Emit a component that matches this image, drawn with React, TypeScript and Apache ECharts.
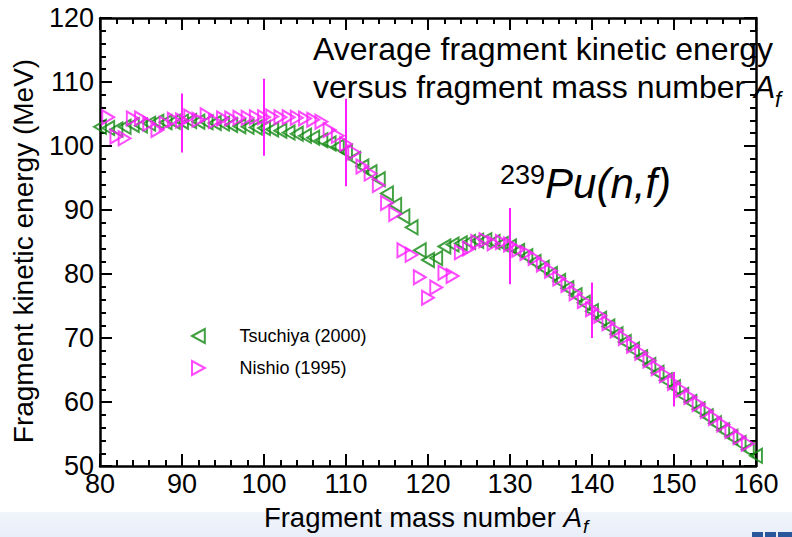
import React, { useEffect, useRef } from "react";
import * as echarts from "echarts";

const FONT = "'Liberation Sans', Arial, Helvetica, sans-serif";

// Tsuchiya (2000) — green left-pointing triangles
const tsuchiyaMass = [
  80, 81, 82, 83, 84, 85, 86, 87, 88, 89, 90, 91, 92, 93, 94, 95, 96, 97, 98, 99,
  100, 101, 102, 103, 104, 105, 106, 107, 108, 109, 110, 111, 112, 113, 114, 115, 116, 117, 118, 119,
  120, 121, 122, 123, 124, 125, 126, 127, 128, 129, 130, 131, 132, 133, 134, 135, 136, 137, 138, 139,
  140, 141, 142, 143, 144, 145, 146, 147, 148, 149, 150, 151, 152, 153, 154, 155, 156, 157, 158, 159, 160,
];
const tsuchiyaEnergy = [
  103.0, 102.8, 102.6, 103.0, 103.3, 103.2, 103.5, 103.8, 103.7, 103.8, 103.8, 103.9, 103.8, 103.7, 103.6, 103.5, 103.3, 103.1, 103.0, 102.9,
  102.8, 102.6, 102.4, 102.1, 101.9, 101.6, 101.3, 100.9, 100.4, 99.9, 99.1, 98.0, 96.8, 95.9, 94.8, 92.6, 90.8, 89.0, 87.3, 83.7,
  82.2, 82.5, 84.3, 84.6, 84.8, 85.0, 85.2, 85.3, 85.0, 84.7, 84.3, 83.6, 82.8, 81.9, 81.0, 80.0, 78.9, 77.8, 76.7, 75.5,
  74.2, 73.0, 71.8, 70.6, 69.4, 68.2, 67.0, 65.8, 64.6, 63.4, 62.3, 61.1, 60.0, 58.9, 57.8, 56.7, 55.6, 54.6, 53.6, 52.6, 51.6,
];

// Nishio (1995) — magenta right-pointing triangles
const nishioMass = [
  81, 82, 83, 84, 85, 86, 87, 88, 89, 90, 91, 92, 93, 94, 95, 96, 97, 98, 99,
  100, 101, 102, 103, 104, 105, 106, 107, 108, 109, 110, 111, 112, 113, 114, 115, 116, 117, 118, 119,
  120, 121, 122, 123, 124, 125, 126, 127, 128, 129, 130, 131, 132, 133, 134, 135, 136, 137, 138, 139,
  140, 141, 142, 143, 144, 145, 146, 147, 148, 149, 150, 151, 152, 153, 154, 155, 156, 157, 158, 159,
];
const nishioEnergy = [
  104.5, 101.5, 101.2, 104.3, 104.3, 103.5, 102.5, 103.5, 104.1, 104.0, 104.6, 104.1, 104.8, 103.9, 104.3, 104.3, 104.4, 104.4, 104.5,
  104.5, 104.6, 104.5, 104.5, 104.4, 104.3, 104.1, 103.8, 102.5, 101.6, 100.3, 99.0, 96.8, 95.7, 93.9, 91.1, 89.4, 83.7, 83.0, 79.5,
  76.3, 77.9, 80.2, 79.7, 83.4, 84.0, 85.0, 85.3, 84.8, 85.0, 84.6, 83.8, 83.3, 82.5, 81.5, 80.5, 79.3, 78.3, 77.0, 75.8,
  74.5, 73.5, 72.3, 71.2, 70.0, 68.8, 67.7, 66.5, 65.3, 64.2, 63.0, 61.9, 60.8, 59.7, 58.6, 57.5, 56.5, 55.5, 54.5, 53.5,
];

// Nishio error bars
const errMass = [90, 100, 110, 130, 140, 150];
const errLow = [99.0, 98.5, 93.7, 78.4, 70.0, 59.3];
const errHigh = [108.2, 110.5, 107.4, 90.3, 78.7, 64.7];

const xTicks = { min: 80, max: 160, interval: 10 };
const yTicks = { min: 50, max: 120, interval: 10 };

const GREEN = "#118811";
const MAGENTA = "#ff1eff";
const LEFT_TRI = "path://M0,6L11,0L11,12Z";
const RIGHT_TRI = "path://M11,6L0,0L0,12Z";

export default function App() {
  const ref = useRef<HTMLDivElement>(null);
  useEffect(() => {
    if (!ref.current) return;
    const chart = echarts.init(ref.current, null, { renderer: "svg" });

    const axisLine = { show: true, onZero: false, lineStyle: { color: "#000", width: 2.5 } };
    const tick = { show: true, inside: true, length: 12, lineStyle: { color: "#000", width: 2 } };
    const minor = { show: true, splitNumber: 5, length: 6, lineStyle: { color: "#000", width: 2 } };

    const option: any = {
      animation: false,
      backgroundColor: "#ffffff",
      grid: { left: 100, right: 36, top: 18, bottom: 61 },
      legend: {
        orient: "vertical",
        left: 186,
        top: 322,
        itemWidth: 72,
        itemHeight: 14,
        itemGap: 14,
        selectedMode: false,
        textStyle: { fontSize: 18, color: "#000", fontFamily: FONT },
        data: ["Tsuchiya (2000)", "Nishio (1995)"],
      },
      xAxis: [
        {
          type: "value",
          position: "bottom",
          ...xTicks,
          axisLine,
          axisTick: tick,
          minorTick: minor,
          splitLine: { show: false },
          minorSplitLine: { show: false },
          axisLabel: { color: "#000", fontSize: 27, fontFamily: FONT, margin: 4 },
          name: "{n|Fragment mass number }{i|A}",
          nameLocation: "middle",
          nameGap: 27,
          nameTextStyle: {
            color: "#000",
            fontFamily: FONT,
            fontSize: 28,
            lineHeight: 30,
            rich: {
              n: { fontSize: 27.5, lineHeight: 30, color: "#000", fontFamily: FONT },
              i: { fontSize: 28, lineHeight: 30, fontStyle: "italic", color: "#000", fontFamily: FONT, padding: [0, 10, 0, 0] },
            },
          },
        },
        {
          type: "value",
          position: "top",
          ...xTicks,
          axisLine,
          axisTick: tick,
          minorTick: minor,
          splitLine: { show: false },
          axisLabel: { show: false },
        },
      ],
      yAxis: [
        {
          type: "value",
          position: "left",
          ...yTicks,
          axisLine,
          axisTick: tick,
          minorTick: minor,
          splitLine: { show: false },
          minorSplitLine: { show: false },
          axisLabel: { color: "#000", fontSize: 27, fontFamily: FONT, margin: 6 },
          name: "Fragment kinetic energy (MeV)",
          nameLocation: "middle",
          nameGap: 50,
          nameTextStyle: { color: "#000", fontFamily: FONT, fontSize: 28, lineHeight: 30, padding: [0, 18, 0, 0] },
        },
        {
          type: "value",
          position: "right",
          ...yTicks,
          axisLine,
          axisTick: tick,
          minorTick: minor,
          splitLine: { show: false },
          axisLabel: { show: false },
        },
      ],
      graphic: [
        {
          type: "rect",
          z: -10,
          shape: { x: 0, y: 512, width: 792, height: 25 },
          style: {
            fill: new echarts.graphic.LinearGradient(0, 0, 0, 1, [
              { offset: 0, color: "#f1f4fb" },
              { offset: 1, color: "#e8eef9" },
            ]),
          },
        },
        { type: "rect", z: -9, shape: { x: 752, y: 532, width: 11, height: 5 }, style: { fill: "#2a579c" } },
        { type: "rect", z: -9, shape: { x: 765, y: 532, width: 11, height: 5 }, style: { fill: "#2a579c" } },
        { type: "rect", z: -9, shape: { x: 778, y: 532, width: 14, height: 5 }, style: { fill: "#2a579c" } },
        // x-axis name subscript
        {
          type: "text",
          z: 100,
          x: 583,
          y: 526,
          style: { text: "f", fontSize: 19, fontStyle: "italic", fontFamily: FONT, fill: "#000", align: "left", verticalAlign: "middle" },
        },
        {
          type: "text",
          z: 100,
          x: 313,
          y: 49,
          style: {
            text: "Average fragment kinetic energy",
            fontSize: 32,
            fontFamily: FONT,
            fill: "#000",
            align: "left",
            verticalAlign: "middle",
          },
        },
        {
          type: "text",
          z: 100,
          x: 313,
          y: 87,
          style: {
            text: "{n|versus fragment mass number }{i|A}",
            fontFamily: FONT,
            fill: "#000",
            align: "left",
            verticalAlign: "middle",
            rich: {
              n: { fontSize: 32, lineHeight: 36, fontFamily: FONT, fill: "#000" },
              i: { fontSize: 32, lineHeight: 36, fontStyle: "italic", fontFamily: FONT, fill: "#000" },
            },
          },
        },
        {
          type: "text",
          z: 100,
          x: 775,
          y: 99,
          style: { text: "f", fontSize: 22, fontStyle: "italic", fontFamily: FONT, fill: "#000", align: "left", verticalAlign: "middle" },
        },
        {
          type: "text",
          z: 100,
          x: 500,
          y: 183,
          style: {
            text: "{sup|239}{pu|Pu(n,f)}",
            fontFamily: FONT,
            fill: "#000",
            align: "left",
            verticalAlign: "middle",
            rich: {
              sup: { fontSize: 27, lineHeight: 22, verticalAlign: "top", fontFamily: FONT, fill: "#000" },
              pu: { fontSize: 42, lineHeight: 44, fontStyle: "italic", fontFamily: FONT, fill: "#000" },
            },
          },
        },
      ],
      series: [
        {
          name: "Tsuchiya (2000)",
          type: "scatter",
          xAxisIndex: 0,
          yAxisIndex: 0,
          symbol: LEFT_TRI,
          symbolSize: [13, 14],
          symbolKeepAspect: true,
          itemStyle: { color: "rgba(0,0,0,0)", borderColor: GREEN, borderWidth: 2 },
          emphasis: { disabled: true },
          data: tsuchiyaMass.map((m, i) => [m, tsuchiyaEnergy[i]]),
          z: 2,
        },
        {
          name: "Nishio (1995)",
          type: "scatter",
          xAxisIndex: 0,
          yAxisIndex: 0,
          symbol: RIGHT_TRI,
          symbolSize: [13, 14],
          symbolKeepAspect: true,
          itemStyle: { color: "rgba(0,0,0,0)", borderColor: MAGENTA, borderWidth: 2 },
          emphasis: { disabled: true },
          data: nishioMass.map((m, i) => [m, nishioEnergy[i]]),
          z: 3,
        },
        {
          name: "Nishio error",
          type: "custom",
          xAxisIndex: 0,
          yAxisIndex: 0,
          silent: true,
          z: 4,
          encode: { x: 0, y: [1, 2] },
          data: errMass.map((m, i) => [m, errLow[i], errHigh[i]]),
          renderItem: (params: any, api: any) => {
            const x = api.value(0);
            const p1 = api.coord([x, api.value(1)]);
            const p2 = api.coord([x, api.value(2)]);
            return {
              type: "line",
              shape: { x1: p1[0], y1: p1[1], x2: p2[0], y2: p2[1] },
              style: { stroke: MAGENTA, lineWidth: 2 },
            };
          },
        },
      ],
    };

    chart.setOption(option);
    return () => chart.dispose();
  }, []);

  return (
    <div
      ref={ref}
      style={{ position: "absolute", left: 0, top: 0, width: 792, height: 537, background: "#fff" }}
    />
  );
}
